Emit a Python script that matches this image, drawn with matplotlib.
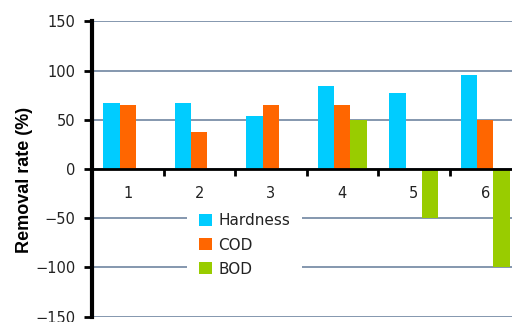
import matplotlib
matplotlib.use("Agg")
import matplotlib.pyplot as plt
import numpy as np

categories = ["1", "2", "3", "4", "5", "6"]
hardness = [67, 67, 54, 84, 77, 96]
cod = [65, 38, 65, 65, 0, 50]
bod = [0, 0, 0, 50, -50, -100]
series_names = ["Hardness", "COD", "BOD"]
series_colors = ["#00CCFF", "#FF6600", "#99CC00"]
y_ticks = [150, 100, 50, 0, -50, -100, -150]

plt.rcParams["font.family"] = ["DejaVu Sans"]

fig = plt.figure(figsize=(5.12, 3.22), dpi=100)
ax = fig.add_axes([92 / 512, 5.3 / 322, 429 / 512, 295.3 / 322])

x = np.arange(1, len(categories) + 1)
w = 0.228
for k, (vals, name, col) in enumerate(zip([hardness, cod, bod], series_names, series_colors)):
    ax.bar(x + (k - 1) * w, vals, width=w, color=col, label=name, zorder=3)

ax.set_xlim(0.5, len(categories) + 0.5)
ax.set_ylim(-150, 150)
ax.set_yticks(y_ticks)
ax.set_yticklabels([str(v).replace("-", "\u2212") for v in y_ticks], fontsize=10.5, color="#222222")
ax.yaxis.grid(True, color="#8497AE", linewidth=1.4, zorder=1)
ax.set_axisbelow(True)

for s in ["top", "right"]:
    ax.spines[s].set_visible(False)
ax.spines["left"].set_linewidth(3)
ax.spines["bottom"].set_position(("data", 0))
ax.spines["bottom"].set_linewidth(2)
ax.spines["bottom"].set_zorder(4)
ax.spines["left"].set_zorder(4)

ax.tick_params(axis="y", length=6, width=2, pad=6, direction="out")
ax.set_xticks(x)
ax.set_xticklabels(categories, fontsize=10.5, color="#222222")
ax.tick_params(axis="x", which="major", length=0, pad=12)
ax.set_xticks(np.arange(1.5, len(categories), 1.0), minor=True)
ax.tick_params(axis="x", which="minor", length=5, width=2, direction="out")

fig.text(25 / 512, 1 - 180 / 322, "Removal rate (%)", rotation=90, ha="center", va="center",
         fontsize=13, fontweight="bold", family="Liberation Sans")

leg = ax.legend(loc="center", bbox_to_anchor=((244.5 - 92) / 429, (322 - 245 - 5.3) / 295.3),
                prop={"size": 11}, frameon=True, fancybox=False, edgecolor="none",
                facecolor="white", framealpha=1, handlelength=0.85, handleheight=0.85,
                handletextpad=0.4, labelspacing=0.6, borderpad=0.8, borderaxespad=0)
leg.set_zorder(5)
leg.get_frame().set_linewidth(0)
for t in leg.get_texts():
    t.set_color("#222222")

fig.savefig("out.png", dpi=100)
